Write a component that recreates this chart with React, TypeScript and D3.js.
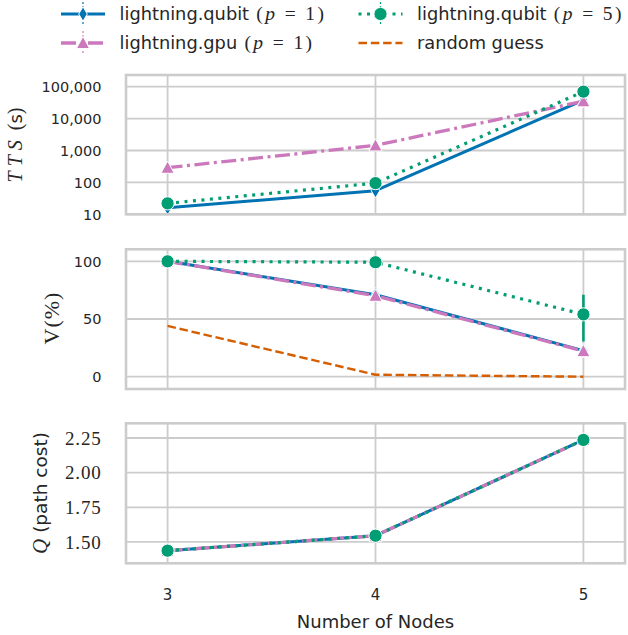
import React from 'react';
import * as d3 from 'd3';

// ---------- data ----------
const nodes = [3, 4, 5];
const ttsQubitP1 = [16, 55, 38000];
const ttsGpuP1 = [290, 1450, 35000];
const ttsQubitP5 = [22, 95, 70000];
const vQubitP1 = [100, 71.0, 22.6];
const vGpuP1 = [100, 70.2, 22.2];
const vQubitP5 = [100, 99.2, 54];
const vQubitP5Lo = [100, 99.2, 30.5];
const vQubitP5Hi = [100, 99.2, 71];
const vRandom = [44, 1.7, 0];
const qQubitP1 = [1.437, 1.545, 2.236];
const qGpuP1 = [1.437, 1.545, 2.236];
const qQubitP5 = [1.437, 1.545, 2.236];
const ttsTicks = [10, 100, 1000, 10000, 100000];
const vTicks = [0, 50, 100];
const qTicks = [1.5, 1.75, 2.0, 2.25];
const xTicks = [3, 4, 5];
const legendNames = ['lightning.qubit', 'lightning.gpu', 'lightning.qubit', 'random guess'];
const legendP = ['1', '1', '5', ''];

// ---------- styles ----------
const TEXT = '#262626';
const GRID = '#cccccc';
const SANS = '"DejaVu Sans", sans-serif';
const SERIF = '"Liberation Serif", "DejaVu Serif", serif';

type Style = { color: string; width: number; dash?: string; marker?: string };
const sBlue: Style = { color: '#0173b2', width: 3, marker: 'diamond' };
const sPink: Style = { color: '#cc78bc', width: 3.3, dash: '15 4.5 3 4.5', marker: 'triangle' };
const sGreen: Style = { color: '#029e73', width: 3.2, dash: '3 5.5', marker: 'circle' };
const sOrange: Style = { color: '#d55e00', width: 2.4, dash: '8.5 3.8' };

const X0 = 126, X1 = 625;
const x = d3.scaleLinear().domain([2.8, 5.2]).range([X0, X1]);

function Marker({ type, cx, cy, color }: { type?: string; cx: number; cy: number; color: string }) {
  if (!type) return null;
  if (type === 'circle') return <circle cx={cx} cy={cy} r={6.6} fill={color} stroke="#fff" strokeWidth={1} />;
  if (type === 'triangle') {
    const p = [[cx, cy - 6.6], [cx - 6.6, cy + 5.6], [cx + 6.6, cy + 5.6]];
    return <polygon points={p.map((q) => q.join(',')).join(' ')} fill={color} stroke="#fff" strokeWidth={1} />;
  }
  const p = [[cx, cy - 7.2], [cx + 4.3, cy], [cx, cy + 7.2], [cx - 4.3, cy]];
  return <polygon points={p.map((q) => q.join(',')).join(' ')} fill={color} stroke="#fff" strokeWidth={1} />;
}

function Series({ ys, y, st }: { ys: number[]; y: (v: number) => number; st: Style }) {
  const line = d3.line<number>().x((_, i) => x(nodes[i])).y((v) => y(v));
  return (
    <g>
      <path d={line(ys) || ''} fill="none" stroke={st.color} strokeWidth={st.width} strokeDasharray={st.dash} strokeLinejoin="round" />
      {ys.map((v, i) => (
        <Marker key={i} type={st.marker} cx={x(nodes[i])} cy={y(v)} color={st.color} />
      ))}
    </g>
  );
}

function Frame({ top, bottom, yTicks, y, fmt, serifTicks }: any) {
  return (
    <g>
      {xTicks.map((t) => (
        <line key={'x' + t} x1={x(t)} x2={x(t)} y1={top} y2={bottom} stroke={GRID} strokeWidth={1.8} />
      ))}
      {yTicks.map((t: number) => (
        <line key={'y' + t} x1={X0} x2={X1} y1={y(t)} y2={y(t)} stroke={GRID} strokeWidth={1.8} />
      ))}
      {yTicks.map((t: number) => (
        <text key={'l' + t} x={101.5} y={y(t)} dy="0.36em" textAnchor="end" fill={TEXT}
          fontFamily={serifTicks ? SERIF : SANS} fontSize={serifTicks ? 19 : 14.5} letterSpacing={serifTicks ? 0.8 : 0}>
          {fmt(t)}
        </text>
      ))}
    </g>
  );
}

function Border({ top, bottom }: { top: number; bottom: number }) {
  return <rect x={X0} y={top} width={X1 - X0} height={bottom - top} fill="none" stroke={GRID} strokeWidth={2.6} />;
}

export default function App() {
  // panel 1
  const p1Top = 75, p1Bot = 214.3;
  const y1 = d3.scaleLog().domain([10, Math.pow(10, 5.367)]).range([p1Bot, p1Top]);
  // panel 2
  const p2Top = 249.3, p2Bot = 389;
  const y2 = d3.scaleLinear().domain([-10.66, 110.4]).range([p2Bot, p2Top]);
  // panel 3
  const p3Top = 423.3, p3Bot = 563.3;
  const y3 = d3.scaleLinear().domain([1.346, 2.356]).range([p3Bot, p3Top]);

  const fmtComma = d3.format(',');
  const fmt2 = d3.format('.2f');

  const legendItems = [
    { st: sBlue, col: 0, row: 0, name: legendNames[0], p: legendP[0] },
    { st: sPink, col: 0, row: 1, name: legendNames[1], p: legendP[1] },
    { st: sGreen, col: 1, row: 0, name: legendNames[2], p: legendP[2] },
    { st: sOrange, col: 1, row: 1, name: legendNames[3], p: legendP[3] },
  ];
  const colX = [61, 358.5];
  const rowY = [14, 43];

  return (
    <svg width={628} height={635} style={{ position: 'absolute', left: 0, top: 0, background: '#fff' }}>
      <rect x={0} y={0} width={628} height={635} fill="#fff" />
      {/* legend */}
      {legendItems.map((it, i) => {
        const hx = colX[it.col], hy = rowY[it.row];
        const cx = hx + 22;
        return (
          <g key={i}>
            {it.st.marker && (
              <line x1={cx} x2={cx} y1={hy - 12} y2={hy + 12} stroke={it.st.color} strokeWidth={1.2} strokeDasharray="2 2" />
            )}
            <line x1={hx} x2={hx + 44} y1={hy} y2={hy} stroke={it.st.color} strokeWidth={it.st.width} strokeDasharray={it.st.dash} />
            <Marker type={it.st.marker} cx={cx} cy={hy} color={it.st.color} />
            <text x={hx + 58.5} y={hy + 5.5} fill={TEXT} fontFamily={SANS} fontSize={17.8}>
              {it.name}
              {it.p && (
                <tspan fontFamily={SERIF} fontSize={19.5} letterSpacing={2.4}>
                  {' ('}
                  <tspan fontStyle="italic">p</tspan>
                  {' = ' + it.p + ')'}
                </tspan>
              )}
            </text>
          </g>
        );
      })}

      {/* panel 1 */}
      <Frame top={p1Top} bottom={p1Bot} yTicks={ttsTicks} y={y1} fmt={fmtComma} />
      <Series ys={ttsQubitP1} y={y1} st={sBlue} />
      <Series ys={ttsGpuP1} y={y1} st={sPink} />
      <Series ys={ttsQubitP5} y={y1} st={sGreen} />
      <Border top={p1Top} bottom={p1Bot} />
      <text transform="translate(21.7,145) rotate(-90)" textAnchor="middle" fill={TEXT} fontSize={20}>
        <tspan fontFamily={SERIF} fontStyle="italic" letterSpacing={5}>TTS</tspan>
        <tspan fontFamily={SERIF}>{' ('}</tspan>
        <tspan fontFamily={SANS} fontSize={18}>s</tspan>
        <tspan fontFamily={SERIF}>)</tspan>
      </text>

      {/* panel 2 */}
      <Frame top={p2Top} bottom={p2Bot} yTicks={vTicks} y={y2} fmt={(v: number) => String(v)} />
      <Series ys={vQubitP1} y={y2} st={sBlue} />
      <Series ys={vGpuP1} y={y2} st={sPink} />
      {nodes.map((n, i) => (
        <line key={'eb' + i} x1={x(n)} x2={x(n)} y1={y2(vQubitP5Lo[i])} y2={y2(vQubitP5Hi[i])} stroke={sGreen.color} strokeWidth={2.6} />
      ))}
      <Series ys={vQubitP5} y={y2} st={sGreen} />
      <Series ys={vRandom} y={y2} st={sOrange} />
      <Border top={p2Top} bottom={p2Bot} />
      <text transform="translate(58.5,318) rotate(-90)" textAnchor="middle" fill={TEXT} fontSize={22} fontFamily={SERIF} letterSpacing={1}>
        V(%)
      </text>

      {/* panel 3 */}
      <Frame top={p3Top} bottom={p3Bot} yTicks={qTicks} y={y3} fmt={fmt2} serifTicks />
      <Series ys={qQubitP1} y={y3} st={sBlue} />
      <Series ys={qGpuP1} y={y3} st={sPink} />
      <Series ys={qQubitP5} y={y3} st={sGreen} />
      <Border top={p3Top} bottom={p3Bot} />
      <text transform="translate(47,493) rotate(-90)" textAnchor="middle" fill={TEXT} fontSize={18.5}>
        <tspan fontFamily={SERIF} fontStyle="italic" fontSize={21}>Q</tspan>
        <tspan fontFamily={SANS}>{' (path cost)'}</tspan>
      </text>

      {/* x axis */}
      {xTicks.map((t) => (
        <text key={t} x={x(t)} y={600} textAnchor="middle" fill={TEXT} fontFamily={SANS} fontSize={15}>
          {t}
        </text>
      ))}
      <text x={(X0 + X1) / 2} y={628} textAnchor="middle" fill={TEXT} fontFamily={SANS} fontSize={18}>
        Number of Nodes
      </text>
    </svg>
  );
}
